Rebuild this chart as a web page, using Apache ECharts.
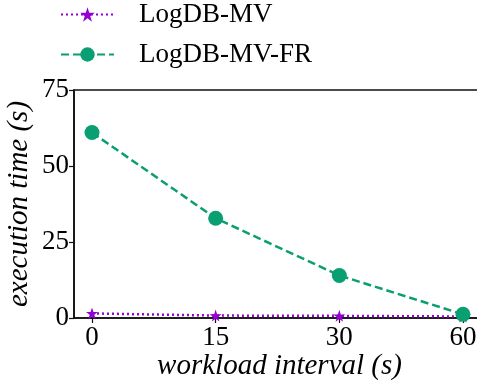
<!DOCTYPE html>
<html>
<head>
<meta charset="utf-8">
<script src="https://cdn.jsdelivr.net/npm/echarts@6/dist/echarts.min.js"></script>
<style>
  html, body { margin: 0; padding: 0; background: #fff; }
  #chart { width: 477px; height: 383px; }
</style>
</head>
<body>
<div id="chart"></div>
<script>
// Workload interval categories (seconds) and execution times (seconds)
const intervals = ['0', '15', '30', '60'];
const logdbMV = [1.5, 0.8, 0.7, 0.5];
const logdbMVFR = [61, 32.8, 14, 1.2];
const yTicks = [0, 25, 50, 75];

const serif = 'Liberation Serif';
const green = '#0a9e73';
const purple = '#9400d3';

const idx = intervals.map((_, i) => i);
const toPoints = vals => vals.map((v, i) => [i, v]);

const chart = echarts.init(document.getElementById('chart'), null, { renderer: 'canvas' });
chart.setOption({
  animation: false,
  backgroundColor: '#fff',
  legend: {
    orient: 'vertical',
    left: 60,
    top: 1,
    padding: 0,
    itemWidth: 53,
    itemHeight: 18,
    itemGap: 13,
    textStyle: { fontFamily: serif, fontSize: 27, color: '#000', padding: [0, 0, 0, 20] },
    data: ['LogDB-MV', 'LogDB-MV-FR']
  },
  grid: {
    left: 74, top: 90, width: 411, height: 228,
    outerBoundsMode: 'none',
    containLabel: false,
    show: true, borderColor: '#111', borderWidth: 1.6, backgroundColor: 'transparent'
  },
  xAxis: {
    type: 'value',
    min: -0.1455,
    max: 3.178,
    name: 'workload interval (s)',
    nameLocation: 'middle',
    nameGap: 34,
    nameMoveOverlap: false,
    nameTextStyle: { fontFamily: serif, fontSize: 29, fontStyle: 'italic', color: '#000' },
    splitLine: { show: false },
    axisLine: { show: true, onZero: false, lineStyle: { color: '#111', width: 1.6 } },
    axisTick: { show: true, customValues: idx, length: 5, lineStyle: { color: '#111', width: 1.2 } },
    axisLabel: {
      customValues: idx,
      formatter: v => intervals[Math.round(v)],
      fontFamily: serif, fontSize: 27, color: '#000', margin: 6
    }
  },
  yAxis: {
    type: 'value',
    min: 0,
    max: 75,
    interval: 25,
    name: 'execution time (s)',
    nameLocation: 'middle',
    nameGap: 40,
    nameMoveOverlap: false,
    nameTextStyle: { fontFamily: serif, fontSize: 29, fontStyle: 'italic', color: '#000' },
    splitLine: { show: false },
    axisLine: { show: true, onZero: false, lineStyle: { color: '#111', width: 1.6 } },
    axisTick: { show: true, length: 5, lineStyle: { color: '#111', width: 1.2 } },
    axisLabel: {
      formatter: v => (yTicks.includes(v) ? String(v) : ''),
      fontFamily: serif, fontSize: 27, color: '#000', margin: 5
    }
  },
  series: [
    {
      name: 'LogDB-MV',
      type: 'line',
      data: toPoints(logdbMV),
      symbol: 'path://M50,0 L61.8,35.5 L99,35.5 L69,57.5 L80.5,93 L50,71 L19.5,93 L31,57.5 L1,35.5 L38.2,35.5 Z',
      symbolSize: 12,
      itemStyle: { color: purple },
      lineStyle: { color: purple, width: 2.5, type: [2, 3] },
      clip: false,
      z: 2
    },
    {
      name: 'LogDB-MV-FR',
      type: 'line',
      data: toPoints(logdbMVFR),
      symbol: 'circle',
      symbolSize: 15,
      itemStyle: { color: green },
      lineStyle: { color: green, width: 2.5, type: [8, 4] },
      clip: false,
      z: 3
    }
  ]
});
</script>
</body>
</html>
